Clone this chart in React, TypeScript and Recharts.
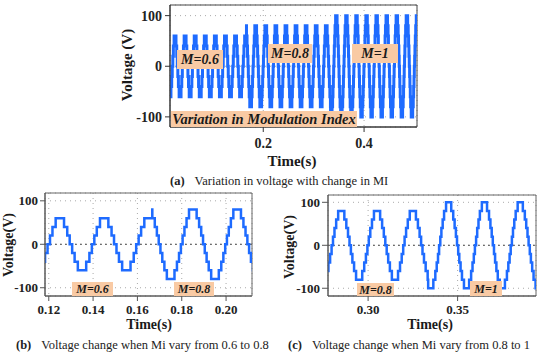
import React from 'react';
import { LineChart, Line, XAxis, YAxis, CartesianGrid, ReferenceLine, ReferenceArea } from 'recharts';

// Waveform: 50 Hz stepped (multilevel) voltage
const PERIOD = 0.02;
const miChangeTimes = [0, 0.1667, 0.3333, 0.54];
const levelsM06 = [0, 20, 40, 60];
const anglesM06 = [0, 10, 30, 56];
const levelsM08 = [0, 20, 40, 60, 80];
const anglesM08 = [0, 7, 22, 39, 59];
const levelsM10 = [0, 20, 40, 60, 80, 100];
const anglesM10 = [0, 6, 17, 30, 44, 64];
const miLevelSets = [levelsM06, levelsM08, levelsM10];
const miAngleSets = [anglesM06, anglesM08, anglesM10];

const voltTicks = [-100, 0, 100];
const timeTicksA = [0.2, 0.4];
const timeTicksB = [0.12, 0.14, 0.16, 0.18, 0.2];
const timeTicksC = [0.3, 0.35];

const xDomainA: [number, number] = [0.015, 0.505];
const yDomainA: [number, number] = [-120, 121];
const xDomainB: [number, number] = [0.1183, 0.2117];
const yDomainB: [number, number] = [-119, 118];
const xDomainC: [number, number] = [0.2776, 0.3938];
const yDomainC: [number, number] = [-118, 117];

function levelAt(theta: number, levels: number[], angles: number[]) {
  let sign = 1;
  let q = theta;
  if (q >= 180) { sign = -1; q -= 180; }
  if (q > 90) q = 180 - q;
  let lv = 0;
  for (let i = 0; i < angles.length; i++) if (q >= angles[i]) lv = levels[i];
  return sign * lv;
}

function buildWave() {
  const pts: { t: number; v: number }[] = [];
  for (let s = 0; s < miLevelSets.length; s++) {
    const levels = miLevelSets[s];
    const angles = miAngleSets[s];
    const start = miChangeTimes[s];
    const end = miChangeTimes[s + 1];
    const ev: number[] = [0];
    for (let i = 1; i < angles.length; i++) {
      ev.push(angles[i], 180 - angles[i], 180 + angles[i], 360 - angles[i]);
    }
    ev.sort((a, b) => a - b);
    const ph0 = ((start % PERIOD) / PERIOD) * 360;
    pts.push({ t: start, v: levelAt(ph0 + 0.0001, levels, angles) });
    const k0 = Math.floor(start / PERIOD);
    const k1 = Math.ceil(end / PERIOD);
    for (let k = k0; k <= k1; k++) {
      for (const th of ev) {
        const t = k * PERIOD + (th / 360) * PERIOD;
        if (t > start && t < end) {
          pts.push({ t, v: levelAt((th + 0.0001) % 360, levels, angles) });
        }
      }
    }
  }
  pts.sort((a, b) => a.t - b.t);
  return pts;
}

const wave = buildWave();

const SERIF = "'Liberation Serif', 'Times New Roman', Tinos, 'Nimbus Roman', 'DejaVu Serif', serif";
const BLUE = '#1e6bff';
const PEACH = '#f9caa4';
const tickFont = { fontFamily: SERIF, fontWeight: 'bold' as const, fill: '#222' };

const abs = (l: number, t: number, w: number, h: number): React.CSSProperties => ({
  position: 'absolute', left: l, top: t, width: w, height: h,
});

function Box({ l, t, w, h, fs, text }: { l: number; t: number; w: number; h: number; fs: number; text: string }) {
  return (
    <div style={{ ...abs(l, t, w, h), background: PEACH, display: 'flex', alignItems: 'center', justifyContent: 'center',
      fontFamily: SERIF, fontWeight: 'bold', fontStyle: 'italic', fontSize: fs, color: '#1a1a1a', whiteSpace: 'nowrap', lineHeight: 1 }}>
      {text}
    </div>
  );
}

function Centered({ x, y, fs, text, rotate, bold = true }: { x: number; y: number; fs: number; text: string; rotate?: boolean; bold?: boolean }) {
  return (
    <div style={{ position: 'absolute', left: x, top: y, transform: `translate(-50%, -50%)${rotate ? ' rotate(-90deg)' : ''}`,
      fontFamily: SERIF, fontWeight: bold ? 'bold' : 'normal', fontSize: fs, color: '#1a1a1a', whiteSpace: 'nowrap', lineHeight: 1 }}>
      {text}
    </div>
  );
}

function Caption({ x, y, tag, text }: { x: number; y: number; tag: string; text: string }) {
  return (
    <div style={{ position: 'absolute', left: x, top: y, fontFamily: SERIF, fontSize: 12.5, color: '#222', whiteSpace: 'nowrap', lineHeight: 1 }}>
      <b>{tag}</b><span style={{ marginLeft: 10 }}>{text}</span>
    </div>
  );
}

export default function App() {
  return (
    <div style={{ position: 'absolute', left: 0, top: 0, width: 550, height: 355, background: '#fff', overflow: 'hidden' }}>
      {/* (a) */}
      <div style={abs(0, 0, 550, 170)}>
        <LineChart width={550} height={170} data={wave} margin={{ top: 5, right: 133, bottom: 0, left: 0 }}>
          <CartesianGrid stroke="#aaa" strokeDasharray="1 4" />
          <XAxis dataKey="t" type="number" domain={xDomainA} allowDataOverflow ticks={timeTicksA}
            tickFormatter={(v: number) => v.toFixed(1)} height={43} tickSize={5} tickMargin={6}
            stroke="#333" tick={{ ...tickFont, fontSize: 14 }} />
          <YAxis type="number" domain={yDomainA} allowDataOverflow ticks={voltTicks} width={170} tickSize={5} tickMargin={3}
            stroke="#333" tick={{ ...tickFont, fontSize: 14 }} />
          <Line type="stepAfter" dataKey="v" stroke={BLUE} strokeWidth={3} dot={false} isAnimationActive={false} />
          <ReferenceArea x1={xDomainA[0]} x2={xDomainA[1]} y1={yDomainA[0]} y2={yDomainA[1]} fill="none" stroke="#444" ifOverflow="visible" />
        </LineChart>
      </div>
      <Box l={177} t={50} w={46} h={19} fs={14} text="M=0.6" />
      <Box l={268} t={44} w={44} h={19} fs={14} text="M=0.8" />
      <Box l={352} t={44} w={46} h={19} fs={14} text="M=1" />
      <Box l={171} t={111} w={186} h={16} fs={14.5} text="Variation in Modulation Index" />
      <Centered x={127} y={65} fs={15} text="Voltage (V)" rotate />
      <Centered x={292} y={161} fs={15} text="Time(s)" />
      <Caption x={170} y={175} tag="(a)" text="Variation in voltage with change in MI" />

      {/* (b) */}
      <div style={abs(0, 0, 260, 320)}>
        <LineChart width={260} height={320} data={wave} margin={{ top: 193, right: 8, bottom: 0, left: 0 }}>
          <CartesianGrid stroke="#aaa" strokeDasharray="1 4" />
          <XAxis dataKey="t" type="number" domain={xDomainB} allowDataOverflow ticks={timeTicksB}
            tickFormatter={(v: number) => v.toFixed(2)} height={24} tickSize={5} tickMargin={4}
            stroke="#555" tick={{ ...tickFont, fontSize: 13 }} />
          <YAxis type="number" domain={yDomainB} allowDataOverflow ticks={voltTicks} width={45} tickSize={5} tickMargin={2}
            stroke="#555" tick={{ ...tickFont, fontSize: 13 }} />
          <ReferenceLine y={0} stroke="#555" strokeDasharray="2 3" />
          <Line type="stepAfter" dataKey="v" stroke={BLUE} strokeWidth={2.5} dot={false} isAnimationActive={false} />
          <ReferenceArea x1={xDomainB[0]} x2={xDomainB[1]} y1={yDomainB[0]} y2={yDomainB[1]} fill="none" stroke="#666" ifOverflow="visible" />
        </LineChart>
      </div>
      <Box l={72} t={282} w={41} h={14} fs={12} text="M=0.6" />
      <Box l={174} t={282} w={40} h={14} fs={12} text="M=0.8" />
      <Centered x={9} y={245} fs={14} text="Voltage(V)" rotate />
      <Centered x={149} y={325} fs={14} text="Time(s)" />
      <Caption x={16} y={339} tag="(b)" text="Voltage change when Mi vary from 0.6 to 0.8" />

      {/* (c) */}
      <div style={abs(275, 0, 275, 320)}>
        <LineChart width={275} height={320} data={wave} margin={{ top: 195, right: 14, bottom: 0, left: 0 }}>
          <CartesianGrid stroke="#aaa" strokeDasharray="1 4" />
          <XAxis dataKey="t" type="number" domain={xDomainC} allowDataOverflow ticks={timeTicksC}
            tickFormatter={(v: number) => v.toFixed(2)} height={24} tickSize={5} tickMargin={4}
            stroke="#555" tick={{ ...tickFont, fontSize: 13 }} />
          <YAxis type="number" domain={yDomainC} allowDataOverflow ticks={voltTicks} width={53} tickSize={6} tickMargin={2}
            stroke="#555" tick={{ ...tickFont, fontSize: 13 }} />
          <ReferenceLine y={0} stroke="#555" strokeDasharray="2 3" />
          <Line type="stepAfter" dataKey="v" stroke={BLUE} strokeWidth={2.5} dot={false} isAnimationActive={false} />
          <ReferenceArea x1={xDomainC[0]} x2={xDomainC[1]} y1={yDomainC[0]} y2={yDomainC[1]} fill="none" stroke="#666" ifOverflow="visible" />
        </LineChart>
      </div>
      <Box l={357} t={283} w={37} h={13} fs={12} text="M=0.8" />
      <Box l={470} t={281} w={32} h={15} fs={12} text="M=1" />
      <Centered x={290} y={247} fs={14} text="Voltage(V)" rotate />
      <Centered x={430} y={325} fs={14} text="Time(s)" />
      <Caption x={288} y={339} tag="(c)" text="Voltage change when Mi vary from 0.8 to 1" />
    </div>
  );
}
